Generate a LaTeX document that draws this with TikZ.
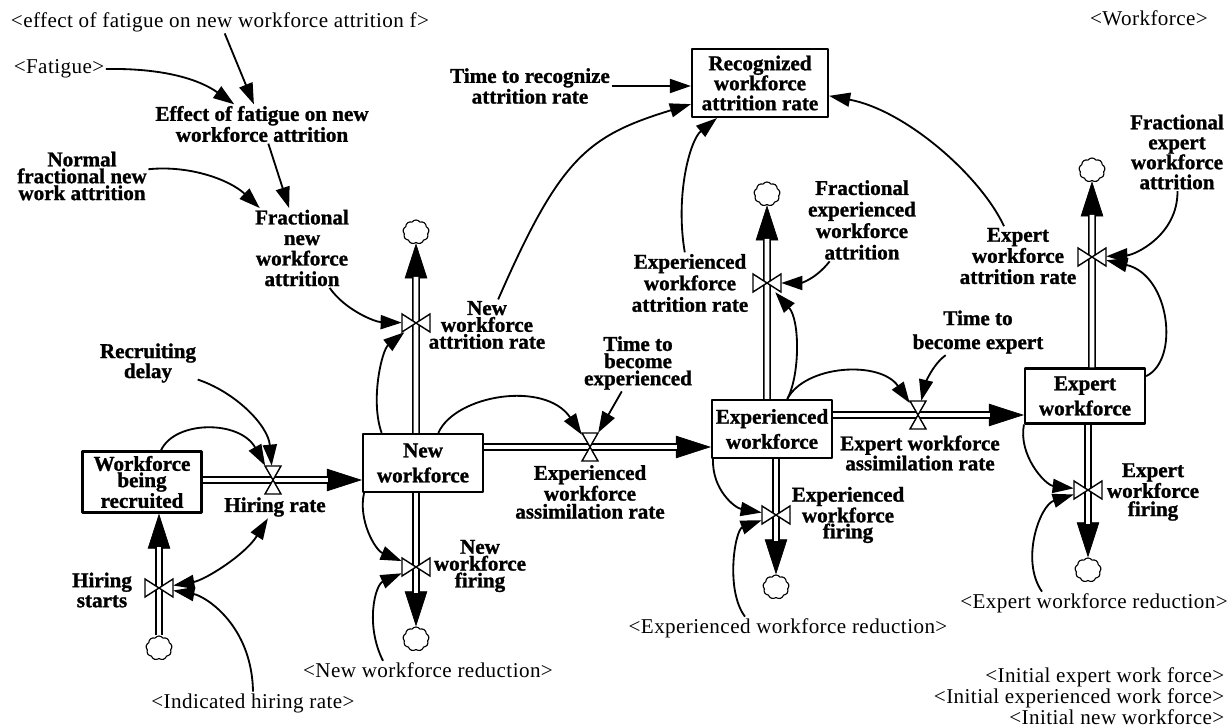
\documentclass[tikz,border=0pt]{standalone}
\usepackage{fontspec}
\setmainfont[FakeBold=1.2]{Liberation Serif}
\newfontfamily\shadowfont[LetterSpace=2]{Liberation Serif}
\usetikzlibrary{arrows.meta,shapes.symbols}

\tikzset{
  stock/.style={draw, line width=1.5pt, fill=white, align=center, inner sep=0pt,
    minimum width=3cm, minimum height=1.45cm, font=\bfseries\fontsize{15}{17.8}\selectfont},
  lbl/.style={align=center, inner sep=1pt, font=\bfseries\fontsize{15}{14.2}\selectfont},
  shadowvar/.style={inner sep=1pt, font=\shadowfont\fontsize{15}{11.4}\selectfont},
  sink/.style={cloud, cloud puffs=9, cloud puff arc=110, aspect=1.1, draw, line width=.8pt,
    minimum width=.65cm, minimum height=.6cm, inner sep=0pt},
  hvalve/.style={inner sep=0pt, minimum width=.4cm, minimum height=.7cm},
  vvalve/.style={inner sep=0pt, minimum width=.7cm, minimum height=.45cm},
  valveline/.style={line width=1pt, fill=white, line join=miter},
  hourglass/.pic={\draw[valveline] (-8,-14) -- (8,-14) -- (-8,14) -- (8,14) -- cycle;},
  bowtie/.pic={\draw[valveline] (-14,-9) -- (-14,9) -- (14,-9) -- (14,9) -- cycle;},
  pipe/.style={line width=1.1pt, double=white, double distance=3.4pt, shorten >=24pt},
  flowhead/.style={-{Triangle[length=25pt,width=16pt]}, line width=.5pt},
  link/.style={line width=1.3pt, ->},
}
% a flow: big head first, double pipe over it
\newcommand\flowpipe[2]{\draw[flowhead] (#1) -- (#2); \draw[pipe] (#1) -- (#2);}

\begin{document}
\begin{tikzpicture}[x=0.025cm, y=-0.025cm, line join=round, >={Triangle[length=15pt,width=10pt]}]
\useasboundingbox (0,0) rectangle (1230,727);

% stocks
\node[stock, font=\bfseries\fontsize{15}{11.6}\selectfont, minimum width=2.975cm, minimum height=1.525cm] (wbr) at (142,482) {Workforce\\being\\recruited};
\node[stock] (nwf) at (423,463) {New\\workforce};
\node[stock] (ewf) at (772,429) {Experienced\\workforce};
\node[stock, minimum height=1.375cm] (xwf) at (1085,396) {Expert\\workforce};
\node[stock, font=\bfseries\fontsize{15}{14.2}\selectfont, minimum width=3.4cm, minimum height=1.7cm] (rwar) at (760,83) {Recognized\\workforce\\attrition rate};

% valves
\node[hvalve] (vhire) at (273,480) {};
\node[vvalve] (vstart) at (159,588) {};
\node[vvalve] (vnwa) at (416,323) {};
\node[vvalve] (vnwf) at (416,567) {};
\node[hvalve] (vewas) at (590,447) {};
\node[vvalve] (vewa) at (767,283) {};
\node[vvalve] (vewf) at (776,515) {};
\node[hvalve] (vxas) at (918,415) {};
\node[vvalve] (vxa) at (1092,257) {};
\node[vvalve] (vxf) at (1088,490) {};

% sources and sinks
\node[sink] (cstart) at (159,648) {};
\node[sink] (cnwa) at (416,232) {};
\node[sink] (cnwf) at (416,639) {};
\node[sink] (cewa) at (767,194) {};
\node[sink] (cewf) at (776,587) {};
\node[sink] (cxa) at (1092,170) {};
\node[sink] (cxf) at (1088,570) {};

% flows
\flowpipe{wbr.east |- vhire}{nwf.west |- vhire}
\flowpipe{cstart.north}{wbr.south -| vstart}
\flowpipe{nwf.north -| vnwa}{cnwa.south}
\flowpipe{nwf.south -| vnwf}{cnwf.north}
\flowpipe{nwf.east |- vewas}{ewf.west |- vewas}
\flowpipe{ewf.north -| vewa}{cewa.south}
\flowpipe{ewf.south -| vewf}{cewf.north}
\flowpipe{ewf.east |- vxas}{xwf.west |- vxas}
\flowpipe{xwf.north -| vxa}{cxa.south}
\flowpipe{xwf.south -| vxf}{cxf.north}

\foreach \v in {vstart,vnwa,vnwf,vewa,vewf,vxa,vxf} \pic at (\v) {bowtie};
\foreach \v in {vhire,vewas,vxas} \pic at (\v) {hourglass};

% auxiliaries
\node[shadowvar] (lfatf) at (220,22) {<effect of fatigue on new workforce attrition f>};
\node[shadowvar] (lwf) at (1149,18) {<Workforce>};
\node[shadowvar] (lfat) at (59,69) {<Fatigue>};
\node[lbl, font=\bfseries\fontsize{15}{12.2}\selectfont] (leff) at (262,124) {Effect of fatigue on new\\workforce attrition};
\node[lbl, font=\bfseries\fontsize{15}{12}\selectfont] (lnorm) at (82,176) {Normal\\fractional new\\work attrition};
\node[lbl, font=\bfseries\fontsize{15}{14.6}\selectfont] (lfnwa) at (302,248) {Fractional\\new\\workforce\\attrition};
\node[lbl, font=\bfseries\fontsize{15}{12.8}\selectfont] (ltrec) at (530,86) {Time to recognize\\attrition rate};
\node[lbl] (lrd) at (148,363) {Recruiting\\delay};
\node[lbl] (lhr) at (275,507) {Hiring rate};
\node[lbl] (lhs) at (102,590) {Hiring\\starts};
\node[shadowvar] (lind) at (253,703) {<Indicated hiring rate>};
\node[lbl, font=\bfseries\fontsize{15}{12}\selectfont] (lnwa) at (487,325) {New\\workforce\\attrition rate};
\node[lbl, font=\bfseries\fontsize{15}{12}\selectfont] (lnwf) at (480,566) {New\\workforce\\firing};
\node[shadowvar] (lnwr) at (428,670) {<New workforce reduction>};
\node[lbl, font=\bfseries\fontsize{15}{12.2}\selectfont] (ltbe) at (638,363) {Time to\\become\\experienced};
\node[lbl, font=\bfseries\fontsize{15}{12.8}\selectfont] (lewas) at (590,492) {Experienced\\workforce\\assimilation rate};
\node[lbl, font=\bfseries\fontsize{15}{15.3}\selectfont] (lewa) at (690,283) {Experienced\\workforce\\attrition rate};
\node[lbl, font=\bfseries\fontsize{15}{15.3}\selectfont] (lfewa) at (862,220) {Fractional\\experienced\\workforce\\attrition};
\node[lbl, font=\bfseries\fontsize{15}{11.4}\selectfont] (lewf) at (848,515) {Experienced\\workforce\\firing};
\node[shadowvar] (lewr) at (788,628) {<Experienced workforce reduction>};
\node[lbl, font=\bfseries\fontsize{15}{17}\selectfont] (ltbx) at (978,332) {Time to\\become expert};
\node[lbl] (lxas) at (920,453) {Expert workforce\\assimilation rate};
\node[lbl, font=\bfseries\fontsize{15}{15}\selectfont] (lxa) at (1018,256) {Expert\\workforce\\attrition rate};
\node[lbl] (lfxa) at (1177,152) {Fractional\\expert\\workforce\\attrition};
\node[lbl, font=\bfseries\fontsize{15}{13}\selectfont] (lxf) at (1153,492) {Expert\\workforce\\firing};
\node[shadowvar] (lxr) at (1094,603) {<Expert workforce reduction>};
\node[shadowvar, align=right, anchor=east] (linit) at (1226,696) {<Initial expert work force>\\<Initial experienced work force>\\<Initial new workforce>};

% links
\draw[link] (lfat.east) .. controls (165,68) and (200,80) .. (leff);
\draw[link] (lfatf) -- (leff);
\draw[link] (leff) -- (lfnwa);
\draw[link] (lnorm) .. controls (190,165) and (230,180) .. (lfnwa);
\draw[link] (lfnwa) .. controls (345,310) and (375,322) .. (vnwa);
\draw[link] (nwf.144) .. controls (370,400) and (382,350) .. (vnwa);
\draw[link] (lnwa) .. controls (560,158) and (587,136) .. (rwar);
\draw[link] (ltrec.east) -- (rwar.west |- ltrec.east);
\draw[link] (lewa) .. controls (675,195) and (690,140) .. (rwar);
\draw[link] (lxa) .. controls (980,175) and (905,110) .. (rwar);
\draw[link] (lrd) .. controls (235,392) and (268,425) .. (vhire);
\draw[link] (wbr.59) .. controls (175,420) and (240,420) .. (vhire);
\draw[link] (lind.north) .. controls (252,625) and (205,596) .. (vstart);
\draw[link, <->] (vstart) .. controls (205,580) and (245,555) .. (lhr);
\draw[link] (nwf.207) .. controls (358,520) and (375,550) .. (vnwf);
\draw[link] ([xshift=-1.125cm]lnwr.north) .. controls (365,625) and (375,585) .. (vnwf);
\draw[link] (nwf.63) .. controls (455,395) and (545,380) .. (vewas);
\draw[link] (ltbe) -- (vewas);
\draw[link] (lfewa) .. controls (815,280) and (800,283) .. (vewa);
\draw[link] (ewf.63) .. controls (800,375) and (800,320) .. (vewa);
\draw[link] (ewf.63) .. controls (805,365) and (880,360) .. (vxas);
\draw[link] (ltbx) .. controls (932,365) and (925,385) .. (vxas);
\draw[link] (ewf.207) .. controls (712,490) and (735,508) .. (vewf);
\draw[link] ([xshift=-1.075cm]lewr.north) .. controls (725,590) and (735,530) .. (vewf);
\draw[link] (lfxa) .. controls (1178,235) and (1135,255) .. (vxa);
\draw[link] (xwf.18) .. controls (1180,360) and (1170,275) .. (vxa);
\draw[link] (xwf.205) .. controls (1018,455) and (1045,485) .. (vxf);
\draw[link] ([xshift=-1.3cm]lxr.north) .. controls (1020,560) and (1040,505) .. (vxf);
\end{tikzpicture}
\end{document}
